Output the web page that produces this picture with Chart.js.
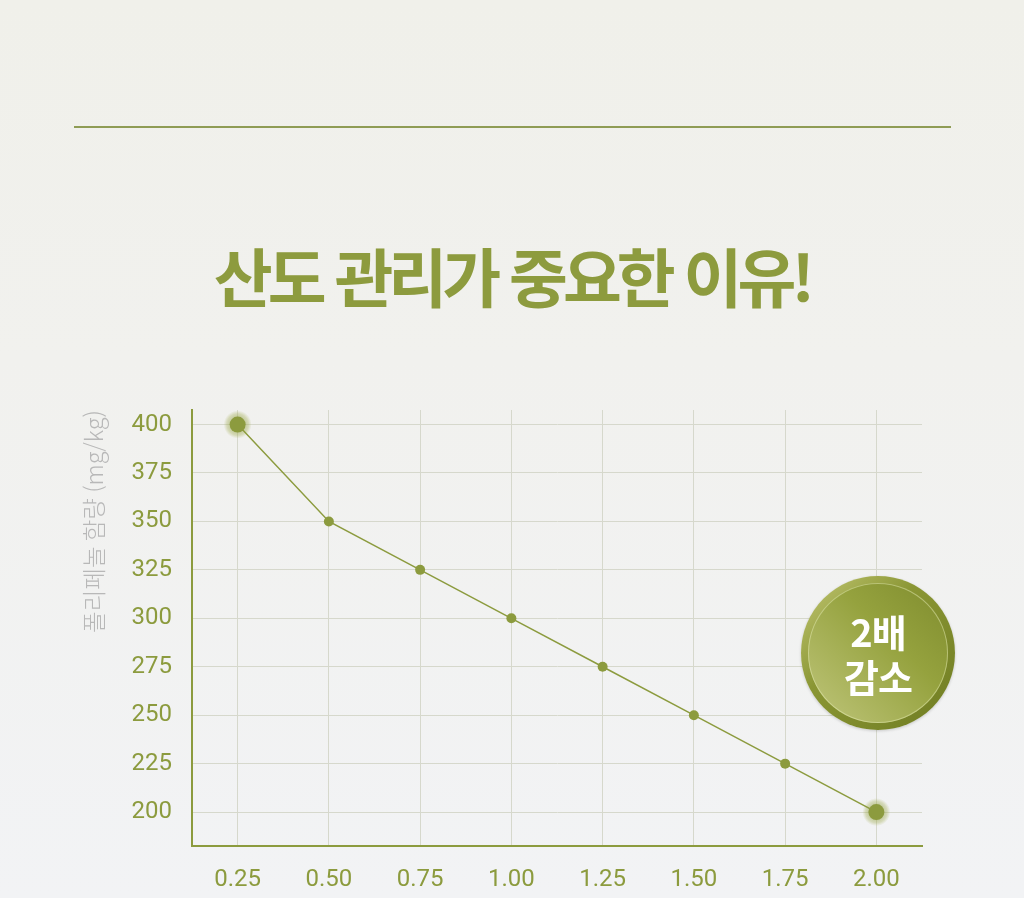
<!DOCTYPE html>
<html lang="ko">
<head>
<meta charset="utf-8">
<script src="https://cdn.jsdelivr.net/npm/chart.js@4.4.1/dist/chart.umd.min.js"></script>
<style>
  html, body { margin: 0; padding: 0; }
  body {
    width: 1024px; height: 898px; overflow: hidden; position: relative;
    background: linear-gradient(180deg, #f0f0ea 0%, #f1f1ee 40%, #f2f3f5 100%);
    font-family: "Noto Sans CJK KR", "Noto Sans", sans-serif;
  }
  #rule {
    position: absolute; left: 74px; top: 126px; width: 877px; height: 2px;
    background: #8f9c55;
  }
  #title {
    position: absolute; left: 0; width: 1024px; top: 229px; text-align: center;
    font-family: "Noto Sans CJK KR", sans-serif; font-weight: 700;
    font-size: 64px; line-height: 90px; color: #8d9b3e; letter-spacing: -5px;
  }
  #wrap { position: absolute; left: 0; top: 0; width: 1024px; height: 898px; }
  #badge {
    position: absolute; left: 801px; top: 576px; width: 154px; height: 154px;
    border-radius: 50%;
    background: linear-gradient(135deg, #c3c874 0%, #8a9634 40%, #6f7c22 100%);
    box-shadow: 0 1px 3px rgba(0,0,0,0.18);
  }
  #badge .inner {
    position: absolute; left: 7px; top: 7px; width: 140px; height: 140px; border-radius: 50%;
    background: linear-gradient(225deg, #7f8c2e 0%, #95a23e 40%, #b5bd6c 85%, #c5ca80 100%);
    box-shadow: inset 0 0 0 1px rgba(230,235,180,0.5);
  }
  #badge .txt {
    position: absolute; left: 0; top: 0; width: 154px; height: 154px;
    display: flex; flex-direction: column; justify-content: center; align-items: center;
    color: #ffffff; font-family: "Noto Sans CJK KR", sans-serif; font-weight: 700;
    font-size: 38px; line-height: 45px; letter-spacing: -1px;
  }
</style>
</head>
<body>
<div id="rule"></div>
<div id="title">산도 관리가 중요한 이유!</div>
<div id="wrap"><canvas id="c" width="1024" height="898"></canvas></div>
<div id="badge"><div class="inner"></div><div class="txt"><div>2배</div><div>감소</div></div></div>
<script>
const acidity = [0.25, 0.50, 0.75, 1.00, 1.25, 1.50, 1.75, 2.00];
const polyphenol = [400, 350, 325, 300, 275, 250, 225, 200];
const xTicks = [0.25, 0.50, 0.75, 1.00, 1.25, 1.50, 1.75, 2.00];
const yTicks = [200, 225, 250, 275, 300, 325, 350, 375, 400];
const yTitle = '폴리페놀 함량 (mg/kg)';

const olive = '#8c9b3e';
const endIdx = [0, polyphenol.length - 1];

const haloPlugin = {
  id: 'halo',
  beforeDatasetsDraw(chart) {
    const meta = chart.getDatasetMeta(0);
    const ctx = chart.ctx;
    endIdx.forEach(i => {
      const p = meta.data[i];
      if (!p) return;
      ctx.save();
      const g = ctx.createRadialGradient(p.x, p.y, 6, p.x, p.y, 14);
      g.addColorStop(0, 'rgba(140,155,62,0.55)');
      g.addColorStop(0.6, 'rgba(160,172,80,0.35)');
      g.addColorStop(1, 'rgba(170,180,90,0)');
      ctx.fillStyle = g;
      ctx.beginPath();
      ctx.arc(p.x, p.y, 14, 0, Math.PI * 2);
      ctx.fill();
      ctx.restore();
    });
  }
};

new Chart(document.getElementById('c'), {
  type: 'line',
  data: {
    datasets: [{
      data: acidity.map((x, i) => ({ x: x, y: polyphenol[i] })),
      borderColor: olive,
      borderWidth: 1.5,
      backgroundColor: olive,
      pointBackgroundColor: olive,
      pointBorderWidth: 0,
      pointRadius: polyphenol.map((v, i) => endIdx.includes(i) ? 8 : 5),
      tension: 0,
      fill: false
    }]
  },
  options: {
    responsive: false,
    animation: false,
    events: [],
    layout: { padding: { left: 0, top: 410, right: 102, bottom: 0 } },
    plugins: { legend: { display: false }, tooltip: { enabled: false } },
    scales: {
      x: {
        type: 'linear',
        min: 0.125, max: 2.125,
        afterFit(s) { s.height = 52; },
        afterBuildTicks(s) { s.ticks = xTicks.map(v => ({ value: v })); },
        grid: { color: '#d6d8cc', lineWidth: 1, drawTicks: false },
        border: { color: olive, width: 2 },
        ticks: {
          padding: 20,
          color: olive,
          font: { family: 'Roboto', size: 24, weight: '400' },
          callback: v => Number(v).toFixed(2),
          maxRotation: 0
        }
      },
      y: {
        type: 'linear',
        min: 182.5, max: 407.5,
        afterFit(s) { s.width = 192; },
        afterBuildTicks(s) { s.ticks = yTicks.map(v => ({ value: v })); },
        grid: { color: '#d6d8cc', lineWidth: 1, drawTicks: false },
        border: { color: olive, width: 2 },
        ticks: {
          padding: 20,
          color: olive,
          font: { family: 'Roboto', size: 24, weight: '400' },
          callback: v => String(v)
        },
        title: {
          display: true,
          text: yTitle,
          align: 'end',
          color: '#b8b8b8',
          font: { family: 'Noto Sans CJK KR', size: 23.5, weight: '300' },
          padding: { top: 80, bottom: 0 }
        }
      }
    }
  },
  plugins: [haloPlugin]
});
</script>
</body>
</html>
